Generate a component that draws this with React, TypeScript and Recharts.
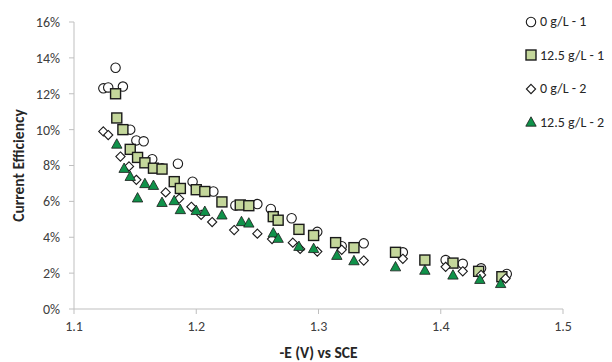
import { ScatterChart, Scatter, XAxis, YAxis, Legend } from 'recharts'

// -E (V) vs SCE, current efficiency in %
const zeroRun1 = [
  { x: 1.124, y: 12.3 }, { x: 1.128, y: 12.35 }, { x: 1.134, y: 13.45 }, { x: 1.140, y: 12.4 },
  { x: 1.146, y: 10.0 }, { x: 1.151, y: 9.4 }, { x: 1.157, y: 9.35 }, { x: 1.164, y: 8.35 },
  { x: 1.172, y: 7.85 }, { x: 1.185, y: 8.1 }, { x: 1.197, y: 7.1 }, { x: 1.214, y: 6.55 },
  { x: 1.232, y: 5.77 }, { x: 1.250, y: 5.85 }, { x: 1.261, y: 5.58 }, { x: 1.278, y: 5.06 },
  { x: 1.299, y: 4.3 }, { x: 1.319, y: 3.5 }, { x: 1.337, y: 3.66 }, { x: 1.369, y: 3.16 },
  { x: 1.404, y: 2.73 }, { x: 1.418, y: 2.52 }, { x: 1.433, y: 2.27 }, { x: 1.454, y: 1.95 },
]

const fullRun1 = [
  { x: 1.134, y: 12.0 }, { x: 1.135, y: 10.65 }, { x: 1.140, y: 10.0 }, { x: 1.146, y: 8.9 },
  { x: 1.152, y: 8.45 }, { x: 1.158, y: 8.15 }, { x: 1.165, y: 7.85 }, { x: 1.172, y: 7.8 },
  { x: 1.182, y: 7.1 }, { x: 1.187, y: 6.72 }, { x: 1.200, y: 6.65 }, { x: 1.207, y: 6.55 },
  { x: 1.221, y: 5.97 }, { x: 1.236, y: 5.8 }, { x: 1.243, y: 5.76 }, { x: 1.263, y: 5.15 },
  { x: 1.267, y: 4.95 }, { x: 1.284, y: 4.44 }, { x: 1.296, y: 4.1 }, { x: 1.314, y: 3.7 },
  { x: 1.329, y: 3.42 }, { x: 1.363, y: 3.16 }, { x: 1.387, y: 2.73 }, { x: 1.410, y: 2.56 },
  { x: 1.431, y: 2.1 }, { x: 1.450, y: 1.8 },
]

const zeroRun2 = [
  { x: 1.124, y: 9.9 }, { x: 1.128, y: 9.7 }, { x: 1.138, y: 8.5 }, { x: 1.145, y: 7.95 },
  { x: 1.151, y: 7.2 }, { x: 1.175, y: 6.5 }, { x: 1.186, y: 6.15 }, { x: 1.196, y: 5.7 },
  { x: 1.204, y: 5.25 }, { x: 1.213, y: 4.85 }, { x: 1.231, y: 4.4 }, { x: 1.250, y: 4.2 },
  { x: 1.262, y: 3.9 }, { x: 1.279, y: 3.7 }, { x: 1.285, y: 3.35 }, { x: 1.299, y: 3.2 },
  { x: 1.319, y: 3.3 }, { x: 1.337, y: 2.7 }, { x: 1.369, y: 2.8 }, { x: 1.404, y: 2.35 },
  { x: 1.418, y: 2.1 }, { x: 1.433, y: 1.9 }, { x: 1.453, y: 1.7 },
]

const fullRun2 = [
  { x: 1.135, y: 9.2 }, { x: 1.141, y: 7.85 }, { x: 1.146, y: 7.4 }, { x: 1.152, y: 6.2 },
  { x: 1.158, y: 7.0 }, { x: 1.165, y: 6.9 }, { x: 1.172, y: 5.95 }, { x: 1.182, y: 6.05 },
  { x: 1.187, y: 5.55 }, { x: 1.200, y: 5.5 }, { x: 1.207, y: 5.45 }, { x: 1.221, y: 5.25 },
  { x: 1.237, y: 4.88 }, { x: 1.243, y: 4.8 }, { x: 1.263, y: 4.25 }, { x: 1.267, y: 3.95 },
  { x: 1.284, y: 3.5 }, { x: 1.296, y: 3.38 }, { x: 1.315, y: 3.0 }, { x: 1.329, y: 2.7 },
  { x: 1.363, y: 2.36 }, { x: 1.387, y: 2.17 }, { x: 1.410, y: 1.9 }, { x: 1.432, y: 1.66 },
  { x: 1.449, y: 1.43 },
]

const xTicks = [1.1, 1.2, 1.3, 1.4, 1.5]
const yTicks = [0, 2, 4, 6, 8, 10, 12, 14, 16]
const seriesNames = ['0 g/L - 1', '12.5 g/L - 1', '0 g/L - 2', '12.5 g/L - 2']

const FONT = 'Carlito, Calibri, Lato, sans-serif'
const INK = '#1a1a1a'
const SQUARE_FILL = '#c4d79b'
const TRIANGLE_FILL = '#10924a'
const AXIS = '#bfbfbf'

function Marker({ kind, cx, cy }: { kind: number; cx: number; cy: number }) {
  if (kind === 0) {
    return <circle cx={cx} cy={cy} r={4.7} fill="white" stroke={INK} strokeWidth={1.1} />
  }
  if (kind === 1) {
    return <rect x={cx - 5} y={cy - 5} width={10} height={10} fill={SQUARE_FILL} stroke={INK} strokeWidth={1.4} />
  }
  if (kind === 2) {
    return (
      <path
        d={`M${cx},${cy - 4.6} L${cx + 4.6},${cy} L${cx},${cy + 4.6} L${cx - 4.6},${cy} Z`}
        fill="white"
        stroke={INK}
        strokeWidth={1.1}
      />
    )
  }
  return (
    <path
      d={`M${cx},${cy - 5.2} L${cx + 5.2},${cy + 4.2} L${cx - 5.2},${cy + 4.2} Z`}
      fill={TRIANGLE_FILL}
      stroke={INK}
      strokeWidth={0.8}
    />
  )
}

const shapeFor = (kind: number) => (props: any) => <Marker kind={kind} cx={props.cx} cy={props.cy} />

function LegendBox() {
  return (
    <div style={{ fontFamily: FONT, fontSize: 14, color: '#262626' }}>
      {seriesNames.map((name, i) => (
        <div key={name} style={{ display: 'flex', alignItems: 'center', height: 33.5 }}>
          <svg width={12} height={12} style={{ marginRight: 3 }}>
            <Marker kind={i} cx={6} cy={6} />
          </svg>
          <span>{name}</span>
        </div>
      ))}
    </div>
  )
}

function YTitle(props: any) {
  const { viewBox } = props
  const x = 18
  const y = viewBox.y + viewBox.height / 2
  return (
    <text
      x={x}
      y={y}
      transform={`rotate(-90 ${x} ${y})`}
      textAnchor="middle"
      dominantBaseline="central"
      fontFamily={FONT}
      fontSize={15.5}
      fontWeight="bold"
      fill="#262626"
    >
      Current Efficiency
    </text>
  )
}

function XTitle(props: any) {
  const { viewBox } = props
  const x = viewBox.x + viewBox.width / 2
  return (
    <text
      x={x}
      y={358}
      textAnchor="middle"
      fontFamily={FONT}
      fontSize={15.5}
      fontWeight="bold"
      fill="#262626"
    >
      -E (V) vs SCE
    </text>
  )
}

export default function App() {
  const tickStyle = { fontFamily: FONT, fontSize: 14, fill: '#404040' }
  return (
    <>
      <style>{'body{margin:0;background:#fff}'}</style>
      <ScatterChart width={612} height={362} margin={{ top: 22, right: 49, bottom: 0, left: 0 }}>
        <XAxis
          type="number"
          dataKey="x"
          domain={[1.1, 1.5]}
          ticks={xTicks}
          tickFormatter={(v: number) => v.toFixed(1)}
          tick={tickStyle}
          stroke={AXIS}
          tickSize={5}
          tickMargin={7}
          height={53}
          allowDataOverflow
          label={<XTitle />}
        />
        <YAxis
          type="number"
          dataKey="y"
          domain={[0, 16]}
          ticks={yTicks}
          tickFormatter={(v: number) => `${v}%`}
          tick={tickStyle}
          stroke={AXIS}
          tickSize={5}
          tickMargin={9}
          width={74}
          label={<YTitle />}
        />
        <Legend
          layout="horizontal"
          verticalAlign="middle"
          content={() => <LegendBox />}
          wrapperStyle={{ position: 'absolute', top: 5, left: 525, width: 87 }}
        />
        <Scatter name={seriesNames[0]} data={zeroRun1} shape={shapeFor(0)} isAnimationActive={false} />
        <Scatter name={seriesNames[1]} data={fullRun1} shape={shapeFor(1)} isAnimationActive={false} />
        <Scatter name={seriesNames[2]} data={zeroRun2} shape={shapeFor(2)} isAnimationActive={false} />
        <Scatter name={seriesNames[3]} data={fullRun2} shape={shapeFor(3)} isAnimationActive={false} />
      </ScatterChart>
    </>
  )
}
